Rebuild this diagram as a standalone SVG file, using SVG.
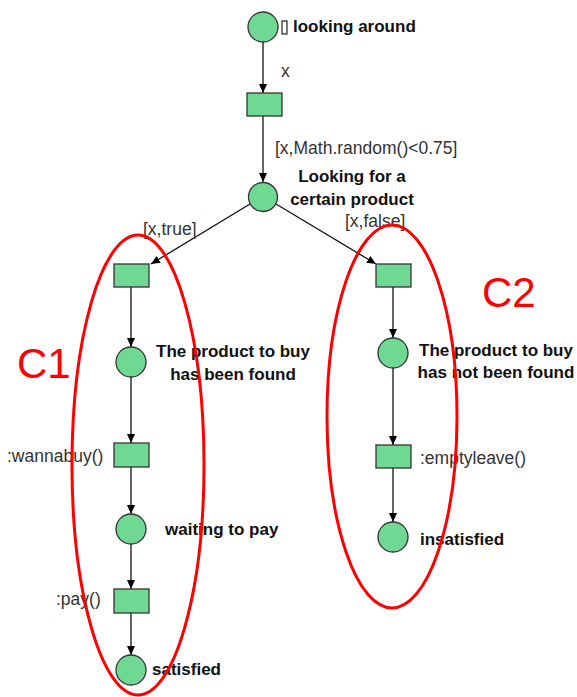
<svg xmlns="http://www.w3.org/2000/svg" width="577" height="697" viewBox="0 0 577 697">
<defs>
<marker id="ah" markerWidth="10" markerHeight="10" refX="9" refY="5" orient="auto" markerUnits="userSpaceOnUse">
<path d="M0,1 L9,5 L0,9 Z" fill="#000"/>
</marker>
<style>
.pl{fill:#6fd994;stroke:#333;stroke-width:1.3}
.tr{fill:#6fd994;stroke:#333;stroke-width:1.3}
.b{font-family:"Liberation Sans",Arial,sans-serif;font-weight:bold;font-size:17px;fill:#111}
.n{font-family:"Liberation Sans",Arial,sans-serif;font-size:17.5px;fill:#333}
.e{stroke:#111;stroke-width:1.3;fill:none;marker-end:url(#ah)}
.red{fill:none;stroke:#f00;stroke-width:3}
.c{font-family:"Liberation Sans",Arial,sans-serif;font-size:42px;fill:#f00}
</style>
</defs>
<rect width="577" height="697" fill="#fff"/>
<g id="connectors">
<line class="e" x1="263" y1="42" x2="263" y2="93"/>
<line class="e" x1="263" y1="116" x2="263" y2="182"/>
<line class="e" x1="250" y1="204" x2="151" y2="264"/>
<line class="e" x1="276" y1="204" x2="376" y2="264"/>
<line class="e" x1="131" y1="287" x2="131" y2="347"/>
<line class="e" x1="131" y1="377" x2="131" y2="443"/>
<line class="e" x1="131" y1="467" x2="131" y2="514"/>
<line class="e" x1="131" y1="544" x2="131" y2="589"/>
<line class="e" x1="131" y1="613" x2="131" y2="655"/>
<line class="e" x1="393" y1="287" x2="393" y2="338"/>
<line class="e" x1="393" y1="368" x2="393" y2="445"/>
<line class="e" x1="393" y1="468" x2="393" y2="522"/>
<text class="n" x="281" y="77">x</text>
<text class="n" x="275" y="154">[x,Math.random()&lt;0.75]</text>
<text class="n" x="143" y="235">[x,true]</text>
<text class="n" x="345" y="227">[x,false]</text>
</g>
<g id="p_looking_around">
<circle class="pl" cx="263" cy="27" r="15"/>
<rect x="282" y="21" width="5" height="13" fill="#fff" stroke="#222" stroke-width="1.2"/>
<text class="b" x="293" y="32">looking around</text>
</g>
<g id="t1"><rect class="tr" x="247" y="93" width="35" height="23"/></g>
<g id="p_looking_for">
<circle class="pl" cx="263" cy="197" r="14.5"/>
<text class="b" x="352" y="182" text-anchor="middle">Looking for a</text>
<text class="b" x="352" y="205" text-anchor="middle">certain product</text>
</g>
<g id="t_true"><rect class="tr" x="114" y="264" width="35" height="23"/></g>
<g id="t_false"><rect class="tr" x="376" y="264" width="35" height="23"/></g>
<g id="p_found">
<circle class="pl" cx="131" cy="362" r="15"/>
<text class="b" x="233" y="357" text-anchor="middle">The product to buy</text>
<text class="b" x="233" y="380" text-anchor="middle">has been found</text>
</g>
<g id="t_wannabuy">
<rect class="tr" x="114" y="443" width="35" height="24"/>
<text class="n" x="7" y="462">:wannabuy()</text>
</g>
<g id="p_waiting">
<circle class="pl" cx="131" cy="529" r="15"/>
<text class="b" x="165" y="535">waiting to pay</text>
</g>
<g id="t_pay">
<rect class="tr" x="114" y="589" width="35" height="24"/>
<text class="n" x="56" y="605">:pay()</text>
</g>
<g id="p_satisfied">
<circle class="pl" cx="131" cy="670" r="15"/>
<text class="b" x="152" y="675">satisfied</text>
</g>
<g id="p_notfound">
<circle class="pl" cx="393" cy="353" r="15"/>
<text class="b" x="496" y="356" text-anchor="middle">The product to buy</text>
<text class="b" x="496" y="378" text-anchor="middle">has not been found</text>
</g>
<g id="t_emptyleave">
<rect class="tr" x="376" y="445" width="35" height="23"/>
<text class="n" x="420" y="464">:emptyleave()</text>
</g>
<g id="p_insatisfied">
<circle class="pl" cx="393" cy="537" r="15"/>
<text class="b" x="420" y="545">insatisfied</text>
</g>
<g id="C1">
<ellipse class="red" cx="138" cy="465" rx="66" ry="230"/>
<text class="c" x="17" y="378">C1</text>
</g>
<g id="C2">
<ellipse class="red" cx="392" cy="416.5" rx="65" ry="191.5"/>
<text class="c" x="482" y="307">C2</text>
</g>
</svg>
